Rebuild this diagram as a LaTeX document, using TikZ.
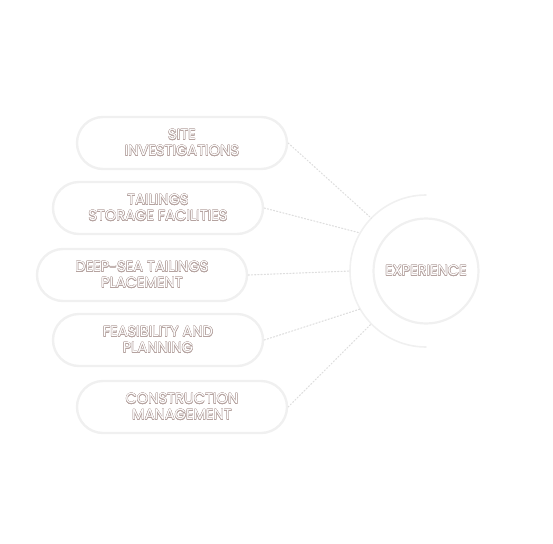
\documentclass[tikz,border=0pt]{standalone}
\usepackage{fontspec}
\setmainfont{Poppins}
\usepackage{xcolor}
\usepackage[copies]{contour}
\usepackage{tikz}
\definecolor{pillgray}{HTML}{F0F0F0}
\definecolor{dotgray}{HTML}{DEDEDE}
\definecolor{txtline}{HTML}{B5A3A0}
\contourlength{0.35pt}
\contournumber{16}
\newcommand{\outl}[1]{\contour{txtline}{#1}}

\begin{document}
\begin{tikzpicture}[x=1pt,y=-1pt,line cap=round,
		pill/.style={draw=pillgray,line width=2.4pt,rounded corners=26pt,minimum width=210pt,minimum height=52pt,inner sep=0pt},
		lbl/.style={text=white,font=\fontsize{14.6}{16}\selectfont,align=center},
		link/.style={draw=dotgray,line width=1.1pt,dash pattern=on 1.2pt off 2pt}]
	\useasboundingbox (0,0) rectangle (553,543);
	% centre
	\coordinate (c) at (426,271);
	\node[circle,draw=pillgray,line width=2.2pt,minimum size=105pt,inner sep=0pt] (exp) at (c) {};
	\node[lbl] (explbl) at (c) {\outl{EXPERIENCE}};
	\draw[draw=pillgray,line width=1.6pt] ([shift={(90:76)}]c) arc[start angle=90,end angle=270,radius=76];
	% the five fields
	\foreach \n/\x/\y/\a/\b/\ang in {1/182/143/SITE/INVESTIGATIONS/224,
			2/158/208/TAILINGS/STORAGE FACILITIES/210,
			3/142/275/DEEP-SEA TAILINGS/PLACEMENT/180,
			4/158/340/FEASIBILITY AND/PLANNING/150,
			5/182/407/CONSTRUCTION/MANAGEMENT/136} {
		\node[pill] (f\n) at (\x,\y) {};
		\node[lbl] (t\n) at (f\n) {\outl{\a}\\\outl{\b}};
		\coordinate (e\n) at ([shift={(\ang:76)}]c);
		\draw[link] (f\n.east) -- (e\n);
	}
\end{tikzpicture}
\end{document}
